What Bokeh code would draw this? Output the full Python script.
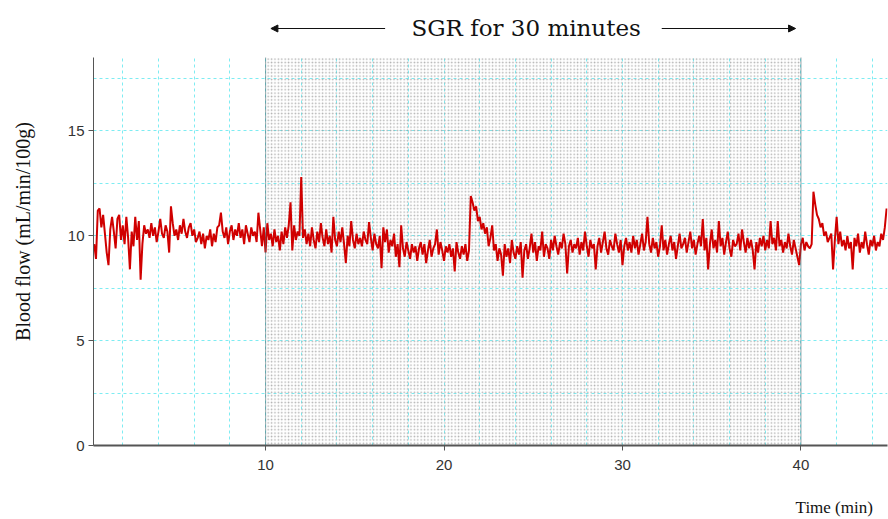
import numpy as np
from bokeh.plotting import figure
from bokeh.layouts import column, row
from bokeh.models import (BoxAnnotation, Span, Label, Arrow, NormalHead,
                          SingleIntervalTicker, FixedTicker, Range1d)
from bokeh.embed import file_html
from bokeh.resources import INLINE

# ---- data ----
t_start = 0.4
t_step = 0.1
flow = [
    9.6, 8.9, 11.2, 11.3, 10.4, 11.0, 10.1, 9.2, 8.6, 10.3,
    10.9, 10.2, 9.4, 10.8, 11.0, 9.8, 10.5, 9.6, 10.9, 9.9,
    8.4, 10.2, 9.5, 10.9, 9.8, 10.7, 7.9, 9.6, 10.5, 10.1,
    10.3, 9.9, 10.6, 10.0, 10.4, 9.7, 10.2, 10.8, 10.1, 9.9,
    10.5, 10.2, 9.2, 11.4, 10.6, 10.0, 10.3, 9.8, 10.5, 10.1,
    10.8, 10.2, 9.9, 10.4, 10.6, 10.0, 10.3, 9.7, 9.9, 10.2,
    9.6, 10.1, 9.4, 10.0, 9.8, 10.3, 9.5, 10.1, 9.7, 10.4,
    10.5, 11.1, 10.2, 9.9, 10.4, 9.6, 10.2, 10.5, 9.8, 10.3,
    10.0, 10.6, 9.9, 10.3, 9.6, 10.5, 10.1, 9.7, 10.4, 10.0,
    10.2, 9.7, 11.1, 10.3, 9.5, 10.4, 9.2, 10.6, 9.8, 10.1,
    9.5, 10.3, 9.7, 10.0, 9.3, 10.2, 9.6, 10.4, 9.9, 10.5,
    11.6, 9.3, 10.5, 9.8, 10.2, 10.0, 12.8, 9.9, 10.3, 9.6,
    10.1, 9.5, 10.4, 9.8, 9.4, 10.2, 9.7, 10.6, 9.9, 9.5,
    10.3, 9.6, 10.0, 9.2, 10.9, 9.8, 9.5, 10.2, 9.7, 10.4,
    9.6, 8.7, 10.0, 9.5, 10.7, 9.8, 9.4, 10.1, 9.6, 9.9,
    9.5, 10.2, 9.8, 9.6, 10.65, 9.9, 9.3, 10.1, 9.6, 9.4,
    10.0, 8.45, 10.4, 9.7, 10.3, 9.2, 9.8, 9.5, 10.1, 9.0,
    9.6, 8.5, 10.5, 9.4, 9.0, 9.7, 9.3, 8.9, 9.6, 9.2,
    9.5, 8.8, 9.4, 9.7, 9.1, 9.6, 8.7, 9.3, 9.8, 9.0,
    9.4, 9.6, 10.3, 9.1, 9.7, 9.3, 8.8, 9.5, 9.2, 9.6,
    9.0, 9.4, 8.3, 9.7, 9.2, 8.9, 9.5, 9.1, 9.6, 8.8,
    9.3, 11.9, 11.6, 11.2, 11.4, 10.7, 10.9, 10.3, 10.6, 10.1,
    10.4, 9.5, 9.9, 10.5, 9.3, 9.6, 8.8, 9.4, 9.1, 8.1,
    9.6, 9.0, 9.4, 8.7, 9.8, 9.2, 8.9, 9.5, 9.1, 9.7,
    8.0, 9.3, 9.6, 8.9, 9.4, 10.1, 9.2, 9.7, 8.8, 9.5,
    9.3, 10.2, 9.0, 9.6, 9.4, 8.9, 9.8, 9.3, 10.0, 9.5,
    9.1, 9.7, 9.4, 10.1, 9.6, 8.2, 9.5, 9.8, 9.2, 9.6,
    9.4, 9.9, 9.1, 9.7, 9.3, 10.2, 9.5, 9.0, 9.8, 9.4,
    9.6, 8.4, 9.5, 9.9, 9.2, 9.7, 10.2, 9.4, 9.1, 9.8,
    9.5, 9.3, 10.1, 9.6, 9.2, 9.8, 8.6, 9.5, 9.9, 9.3,
    9.7, 9.2, 10.0, 9.4, 9.8, 9.1, 9.6, 10.1, 9.3, 9.7,
    10.9, 9.6, 9.2, 9.9, 9.4, 9.7, 9.0, 9.5, 10.5, 9.3,
    9.8, 9.1, 9.6, 10.0, 9.3, 9.7, 8.9, 9.5, 10.1, 9.4,
    9.6, 9.9, 9.2, 9.7, 10.2, 9.4, 9.8, 9.1, 9.6, 10.0,
    9.5, 10.8, 9.3, 9.9, 8.4, 9.6, 10.3, 9.4, 9.8, 9.2,
    10.7, 9.5, 9.9, 9.1, 9.7, 10.2, 9.4, 9.0, 9.8, 9.5,
    9.6, 10.1, 9.3, 10.3, 9.7, 9.2, 9.9, 9.4, 9.8, 9.3,
    8.4, 9.7, 9.2, 9.9, 9.5, 10.0, 9.3, 9.8, 9.4, 10.7,
    9.6, 9.9, 9.3, 10.7, 9.5, 9.8, 9.2, 9.7, 9.4, 10.1,
    9.5, 9.1, 9.8, 9.4, 9.0, 8.6, 9.6, 9.9, 9.3, 9.7,
    9.5, 9.4, 9.6, 12.1, 11.5, 11.0, 10.8, 10.4, 10.6, 10.0,
    10.2, 9.7, 9.9, 10.1, 8.4, 9.8, 10.9, 9.6, 10.2, 9.5,
    9.8, 9.3, 10.0, 9.4, 9.7, 8.4, 9.9, 9.5, 10.1, 9.2,
    9.7, 9.4, 10.2, 9.6, 9.1, 9.8, 9.5, 10.0, 9.3, 9.7,
    9.5, 10.1, 9.8, 10.4, 11.3,
]
time = [round(t_start + i * t_step, 2) for i in range(len(flow))]

sgr_start = 10
sgr_end = 40
x_ticks = [10, 20, 30, 40]
y_ticks = [0, 5, 10, 15]
title_text = "SGR for 30 minutes"
x_label = "Time (min)"
y_label = "Blood flow (mL/min/100g)"

LEFT_W = 45
RIGHT_W = 888 - LEFT_W
xr = Range1d(0.36, 44.85)

def strip(height, y_max):
    f = figure(width=RIGHT_W, height=height, output_backend="svg",
               toolbar_location=None, x_range=xr, y_range=Range1d(0, y_max),
               x_axis_type=None, y_axis_type=None, min_border_left=93 - LEFT_W,
               min_border_right=1, min_border_top=0, min_border_bottom=0)
    f.outline_line_color = None
    f.grid.visible = False
    return f

# ---- left strip with the rotated y label ----
left = figure(width=LEFT_W, height=519, output_backend="svg",
              toolbar_location=None, x_range=Range1d(0, LEFT_W),
              y_range=Range1d(0, 519), x_axis_type=None, y_axis_type=None,
              min_border=0)
left.outline_line_color = None
left.grid.visible = False
left.add_layout(Label(x=22, y=519 - 231, text=y_label, angle=np.pi / 2,
                      text_font="Liberation Serif", text_font_size="20px",
                      text_color="#111111", text_align="center",
                      text_baseline="middle"))

# ---- header strip with title and arrows ----
top = strip(57, 57)
top.add_layout(Label(x=24.6, y=30, text=title_text, text_font="DejaVu Serif",
                     text_font_size="23px", text_color="#111111",
                     text_align="center", text_baseline="middle"))
top.add_layout(Arrow(x_start=16.7, y_start=29, x_end=10.3, y_end=29,
                     line_color="#111111", line_width=1,
                     end=NormalHead(size=7, fill_color="#111111",
                                    line_color="#111111")))
top.add_layout(Arrow(x_start=32.2, y_start=29, x_end=39.7, y_end=29,
                     line_color="#111111", line_width=1,
                     end=NormalHead(size=7, fill_color="#111111",
                                    line_color="#111111")))

# ---- main figure ----
p = figure(width=RIGHT_W, height=424, output_backend="svg",
           toolbar_location=None, x_range=xr, y_range=Range1d(0, 18.5),
           min_border_left=93 - LEFT_W, min_border_right=1, min_border_top=0,
           min_border_bottom=36)
p.outline_line_color = None
p.background_fill_color = "white"

# grid
p.xgrid.ticker = SingleIntervalTicker(interval=2)
p.ygrid.ticker = SingleIntervalTicker(interval=2.5)
for g in (p.xgrid, p.ygrid):
    g.grid_line_color = "#7eecf2"
    g.grid_line_dash = "3 3"
    g.grid_line_width = 1

# shaded SGR region
p.add_layout(BoxAnnotation(left=sgr_start, right=sgr_end, fill_alpha=0,
                           line_alpha=0, hatch_pattern="dot",
                           hatch_color="#9a9a9a", hatch_scale=3.4,
                           hatch_weight=1, hatch_alpha=0.75, level="underlay"))
for xv in (sgr_start, sgr_end):
    p.add_layout(Span(location=xv, dimension="height", line_color="#4a6a70",
                      line_dash="1 1", line_width=1.2))

# trace
p.line(time, flow, line_color="#d00000", line_width=2)

# axes
for ax in (p.xaxis[0], p.yaxis[0]):
    ax.axis_line_color = "#555555"
    ax.major_tick_line_color = "#555555"
    ax.minor_tick_line_color = None
    ax.major_tick_out = 5
    ax.major_tick_in = 0
    ax.major_label_text_font = "Liberation Sans"
    ax.major_label_text_font_size = "15px"
    ax.major_label_text_color = "#333333"
p.xaxis[0].ticker = FixedTicker(ticks=x_ticks)
p.yaxis[0].ticker = FixedTicker(ticks=y_ticks)
p.xaxis[0].axis_line_width = 2
p.xaxis[0].major_label_standoff = 9
p.yaxis[0].major_label_standoff = 4

# ---- bottom strip with the x label ----
bottom = strip(38, 38)
bottom.add_layout(Label(x=39.7, y=12, text=x_label, text_font="Liberation Serif",
                        text_font_size="17px", text_color="#111111",
                        text_align="left", text_baseline="middle"))

layout = row(left, column(top, p, bottom, spacing=0), spacing=0)
open("out.html", "w").write(file_html(layout, INLINE))
